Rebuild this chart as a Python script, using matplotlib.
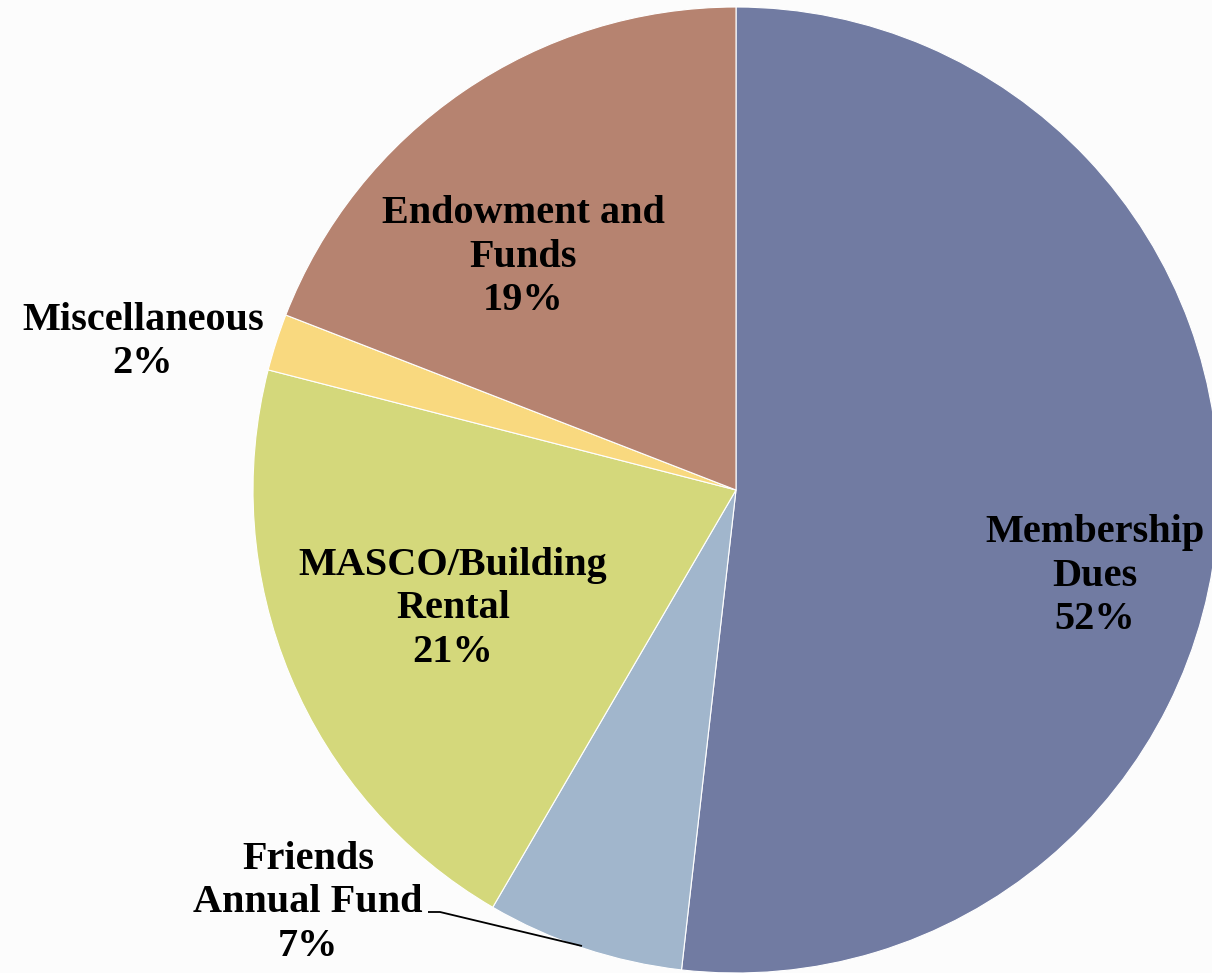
import matplotlib
matplotlib.use("Agg")
import matplotlib.pyplot as plt

categories = ["Membership\nDues", "Friends\nAnnual Fund", "MASCO/Building\nRental",
              "Miscellaneous", "Endowment and\nFunds"]
values = [51.8, 6.6, 20.6, 1.9, 19.1]
pct_labels = ["52%", "7%", "21%", "2%", "19%"]
colors = ["#717BA2", "#A1B6CC", "#D4D87B", "#F9D97F", "#B68370"]

W, H = 1212, 973
cx, cy, R = 736, 490, 483

fig = plt.figure(figsize=(W / 100, H / 100), dpi=100, facecolor="#FCFCFC")
ax = fig.add_axes([0, 0, 1, 1])
ax.set_facecolor("#FCFCFC")
ax.pie(values, colors=colors, startangle=90, counterclock=False, radius=1,
       wedgeprops=dict(edgecolor="white", linewidth=0.8))
ax.set_xlim(-cx / R, (W - cx) / R)
ax.set_ylim(-(H - cy) / R, cy / R)
ax.set_aspect("auto")
ax.axis("off")

def px(x, y):
    return (x - cx) / R, (cy - y) / R

label_px = [(1095, 576), (308, 903), (453, 609), (143, 342), (523, 257)]
font = dict(family="Liberation Serif", weight="bold", size=29)
for cat, pct, (x, y) in zip(categories, pct_labels, label_px):
    dx, dy = px(x, y)
    ax.text(dx, dy, f"{cat}\n{pct}", ha="center", va="center", multialignment="center",
            linespacing=1.24, color="black", **font)

# leader line for Friends Annual Fund
p0 = px(428, 912)
p1 = px(440, 912)
p2 = px(582, 946)
ax.plot([p0[0], p1[0], p2[0]], [p0[1], p1[1], p2[1]], color="black", lw=1.3,
        solid_capstyle="butt")

fig.savefig("out.png", dpi=100, facecolor=fig.get_facecolor())
